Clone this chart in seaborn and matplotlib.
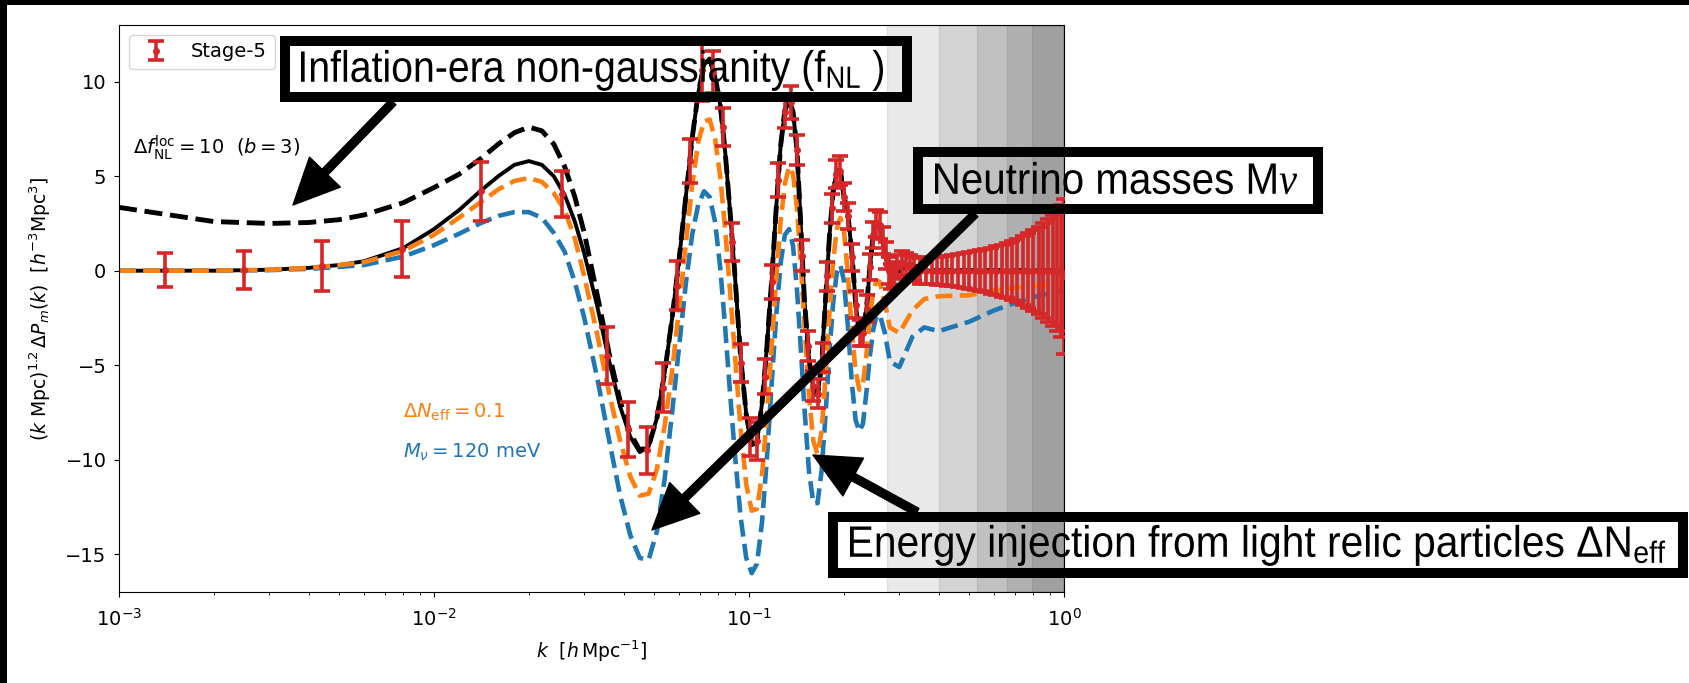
import matplotlib
matplotlib.use('Agg')
import matplotlib.pyplot as plt
from matplotlib.patches import Rectangle, PathPatch
from matplotlib.textpath import TextPath
from matplotlib.font_manager import FontProperties
from matplotlib.transforms import Affine2D, IdentityTransform
import seaborn as sns

# k grid shared by all theory curves [h/Mpc]
k = [0.001, 0.002, 0.003, 0.004, 0.005, 0.006, 0.008, 0.010, 0.012, 0.014,
     0.016, 0.018, 0.020, 0.022, 0.024, 0.026, 0.028, 0.030, 0.033, 0.036,
     0.039, 0.042, 0.045, 0.048, 0.051, 0.054, 0.057, 0.060, 0.063, 0.066,
     0.069, 0.072, 0.075, 0.078, 0.081, 0.084, 0.087, 0.090, 0.094, 0.098,
     0.102, 0.106, 0.110, 0.114, 0.118, 0.122, 0.126, 0.130, 0.134, 0.138,
     0.142, 0.146, 0.150, 0.155, 0.160, 0.165, 0.170, 0.175, 0.180, 0.185,
     0.190, 0.195, 0.200, 0.206, 0.212, 0.218, 0.224, 0.230, 0.236, 0.242,
     0.248, 0.254, 0.260, 0.27, 0.28, 0.30, 0.33, 0.36, 0.40, 0.5,
     0.6, 0.7, 0.8, 0.9, 1.0]

# black solid curve
total = [0.0, 0.0, 0.05, 0.15, 0.3, 0.5, 1.2, 2.2, 3.2, 4.2,
         5.0, 5.6, 5.8, 5.6, 5.0, 4.0, 2.6, 0.9, -1.9, -4.8,
         -7.2, -8.8, -9.6, -9.3, -7.8, -5.4, -2.5, 0.6, 3.9, 7.0,
         9.4, 10.9, 11.2, 10.3, 8.8, 6.3, 3.2, 0.0, -4.5, -7.6,
         -9.2, -9.1, -7.0, -4.0, -0.5, 3.3, 6.6, 8.5, 9.0, 8.4,
         6.4, 2.4, -1.6, -4.6, -6.3, -6.6, -5.0, -1.5, 1.8, 4.2,
         5.3, 5.3, 4.0, 3.0, 1.0, -1.7, -3.3, -3.4, -2.0, 0.2,
         1.9, 2.5, 2.4, 1.0, -0.1, 0.0, 0.3, 0.0, 0.0, 0.0,
         0.0, 0.0, 0.0, 0.0, 0.0]

# Delta N_eff = 0.1 (orange dashed)
neff = [0.0, 0.0, 0.05, 0.15, 0.3, 0.45, 1.05, 1.9, 2.8, 3.6,
        4.3, 4.75, 4.9, 4.7, 4.1, 3.2, 1.7, -0.3, -3.4, -6.5,
        -9.0, -10.9, -11.9, -11.8, -10.5, -8.2, -5.3, -2.0, 1.4, 4.5,
        6.8, 7.9, 8.0, 7.0, 5.0, 2.2, -1.0, -4.2, -8.3, -11.3,
        -12.7, -12.6, -10.8, -7.7, -4.0, -0.4, 2.6, 4.6, 5.5, 5.1,
        3.3, 0.4, -2.9, -6.6, -9.0, -9.7, -8.5, -5.6, -2.3, 0.5,
        2.2, 2.8, 2.2, -0.2, -3.2, -5.3, -6.3, -6.0, -4.4, -2.5,
        -1.1, -0.5, -0.6, -1.7, -3.0, -3.3, -2.1, -1.5, -1.35, -1.3,
        -1.05, -0.9, -0.8, -0.7, -0.6]

# M_nu = 120 meV (blue dashed)
mnu = [0.0, 0.0, 0.03, 0.1, 0.2, 0.3, 0.75, 1.35, 1.95, 2.5,
       2.9, 3.1, 3.1, 2.8, 2.0, 1.0, -0.6, -2.5, -5.7, -9.0,
       -11.9, -14.0, -15.2, -15.3, -13.8, -11.0, -7.5, -4.0, -0.7, 1.9,
       3.5, 4.2, 3.9, 2.6, 0.2, -3.0, -6.4, -9.5, -13.0, -15.2,
       -16.0, -15.5, -13.3, -9.9, -6.0, -2.4, 0.4, 1.9, 2.2, 1.3,
       -1.0, -4.1, -7.3, -10.6, -12.3, -12.3, -10.6, -7.6, -4.3, -1.7,
       -0.1, 0.3, -0.5, -2.9, -5.9, -7.9, -8.5, -8.1, -6.4, -4.5,
       -3.1, -2.4, -2.3, -3.3, -4.8, -5.1, -3.5, -3.0, -3.2, -2.7,
       -2.1, -1.7, -1.4, -1.2, -1.0]

# Delta f_NL = 10 (black dashed), low-k part; above k = 0.045 it follows the black solid curve
fnl_low = [3.35, 2.6, 2.5, 2.55, 2.7, 2.95, 3.6, 4.4, 5.1, 5.9,
           6.7, 7.3, 7.6, 7.4, 6.7, 5.5, 3.9, 2.0, -1.3, -4.4,
           -6.9, -8.6, -9.5]
fnl = fnl_low + total[len(fnl_low):]

# Stage-5 forecast points
bar_k = [0.0014, 0.0025, 0.0044, 0.0079, 0.0141, 0.0254,
         0.0355, 0.0414, 0.0473, 0.0532, 0.0591, 0.0650, 0.0709, 0.0768, 0.0827, 0.0886,
         0.0945, 0.1004, 0.1063, 0.1122, 0.1181, 0.1240, 0.1299, 0.1358, 0.1417, 0.1476,
         0.1535, 0.1594, 0.1653, 0.1712, 0.1771, 0.1830, 0.1889, 0.1948, 0.2007, 0.2066,
         0.2125, 0.2184, 0.2243, 0.2302, 0.2361, 0.2420, 0.2479, 0.2538, 0.2597, 0.2656,
         0.2715, 0.2774, 0.2833, 0.2892, 0.2951,
         0.305, 0.315, 0.325, 0.335, 0.35, 0.365, 0.38, 0.395, 0.41, 0.425,
         0.44, 0.46, 0.48, 0.50, 0.52, 0.54, 0.56, 0.585, 0.61, 0.635,
         0.66, 0.685, 0.71, 0.74, 0.77, 0.80, 0.83, 0.86, 0.89, 0.92,
         0.95, 0.98, 1.0]
bar_val = [0.05, 0.05, 0.25, 1.15, 4.2, 4.05,
           -4.5, -8.4, -9.5, -6.2, -0.8, 5.8, 10.6, 10.5, 7.6, 1.5,
           -4.9, -8.8, -9.0, -5.6, -0.6, 4.8, 8.4, 8.9, 6.4, 0.8,
           -4.0, -6.1, -6.5, -4.6, -0.3, 3.3, 5.1, 5.3, 3.9, 2.9,
           0.7, -1.8, -3.3, -3.3, -2.0, 0.2, 1.9, 2.5, 2.4, 1.6,
           0.8, 0.0, -0.3, -0.2, 0.2,
           0.4, 0.3, 0.2, 0.1, 0.0, 0.0, 0.0, 0.0, 0.0, 0.0,
           0.0, 0.0, 0.0, 0.0, 0.0, 0.0, 0.0, 0.0, 0.0, 0.0,
           0.0, 0.0, 0.0, 0.0, 0.0, 0.0, 0.0, 0.0, 0.0, 0.0,
           0.0, 0.0, -0.3]
bar_err = [0.9, 1.0, 1.3, 1.5, 1.55, 1.2,
           1.5, 1.45, 1.25, 1.3, 1.3, 1.15, 1.6, 1.1, 1.0, 1.0,
           1.0, 1.0, 1.0, 0.95, 0.9, 0.9, 0.85, 0.85, 0.8, 0.8,
           0.8, 0.8, 0.75, 0.75, 0.75, 0.75, 0.75, 0.75, 0.75, 0.7,
           0.7, 0.7, 0.7, 0.7, 0.7, 0.7, 0.7, 0.7, 0.7, 0.7,
           0.7, 0.7, 0.65, 0.65, 0.65,
           0.65, 0.65, 0.65, 0.65, 0.68, 0.7, 0.72, 0.75, 0.78, 0.8,
           0.83, 0.87, 0.92, 0.97, 1.02, 1.08, 1.15, 1.22, 1.3, 1.38,
           1.47, 1.57, 1.68, 1.82, 1.97, 2.13, 2.3, 2.5, 2.72, 2.95,
           3.2, 3.5, 4.1]

# k_max of the shaded redshift bins
band_kmin = [0.274, 0.40, 0.528, 0.66, 0.79]

W, H = 1690, 683
plt.rcParams['mathtext.rm'] = 'Liberation Sans'
plt.rcParams['mathtext.it'] = 'Liberation Serif:italic'
plt.rcParams['mathtext.bf'] = 'Liberation Sans:bold'

fig = plt.figure(figsize=(W / 100, H / 100), dpi=100)
ax = fig.add_axes([119 / W, 1 - 592 / H, 945 / W, 567 / H])

for kk in band_kmin:
    ax.axvspan(kk, 1.0, color='k', alpha=0.085, lw=1.0, zorder=0.5)

sns.lineplot(x=k, y=total, ax=ax, color='k', lw=2.8, zorder=2)
sns.lineplot(x=k, y=mnu, ax=ax, color='C0', linestyle='--', lw=3.3, zorder=2.1)
sns.lineplot(x=k, y=neff, ax=ax, color='C1', linestyle='--', lw=3.3, zorder=2.2)
sns.lineplot(x=k, y=fnl, ax=ax, color='k', linestyle='--', lw=3.5, zorder=2.3)

ax.errorbar(bar_k, bar_val, yerr=bar_err, fmt='o', color='C3', ms=4,
            elinewidth=2.6, capsize=6, capthick=2.6, label='Stage-5', zorder=3)

ax.set_xscale('log')
ax.set_xlim(1e-3, 1.0)
ax.set_ylim(-17, 13)
ax.set_yticks([-15, -10, -5, 0, 5, 10])
ax.tick_params(labelsize=14, pad=5.5)
ax.tick_params(axis='x', pad=8)
ax.set_xlabel(r'$k$  [$h\,$Mpc$^{-1}$]', fontsize=13.5, labelpad=6)
ax.set_ylabel(r'$(k\ \mathrm{Mpc})^{1.2}\,\Delta P_m(k)$  [$h^{-3}\mathrm{Mpc}^3$]',
              fontsize=13.5, labelpad=9)
ax.legend(loc='upper left', fontsize=14)

ax.text(0.00111, 6.5, r'$\Delta f_{\rm NL}^{\rm loc} = 10$  $(b = 3)$', fontsize=14, va='center')
ax.text(0.008, -7.5, r'$\Delta N_{\rm eff} = 0.1$', color='C1', fontsize=14, va='center')
ax.text(0.008, -9.6, r'$M_\nu = 120\ \mathrm{meV}$', color='C0', fontsize=14, va='center')

# black frame on the top and left edges of the picture
fig.add_artist(Rectangle((0, 1 - 5 / H), 1, 5 / H, transform=fig.transFigure,
                         color='k', lw=0, zorder=10))
fig.add_artist(Rectangle((0, 0), 7 / W, 1, transform=fig.transFigure,
                         color='k', lw=0, zorder=10))

# annotation boxes: outer edges (pixels from top-left), text left/right/baseline
boxes = [
    (280, 36, 912, 102, 301, 883, 82, r'Inflation-era non-gaussianity (f$_{\mathrm{NL}}$ )'),
    (913, 147, 1323, 214, 935, 1297, 194, r'Neutrino masses M$\nu$'),
    (828, 512, 1688, 578, 850, 1665, 557, r'Energy injection from light relic particles $\Delta$N$_{\mathrm{eff}}$'),
]
bw = 10
prop = FontProperties(family='Liberation Sans', math_fontfamily='custom')
for x0, y0, x1, y1, tl, tr_, ty, s in boxes:
    fig.add_artist(Rectangle(((x0 + bw / 2) / W, 1 - (y1 - bw / 2) / H),
                             (x1 - x0 - bw) / W, (y1 - y0 - bw) / H,
                             transform=fig.transFigure, fill=False, ec='k',
                             lw=bw * 0.72, zorder=8))
    # narrow lettering: squeeze the glyph outlines to the measured width
    tp = TextPath((0, 0), s, size=44, prop=prop)
    ext = tp.get_extents()
    sx = (tr_ - tl) / ext.width
    trf = Affine2D().translate(-ext.x0, 0).scale(sx, 1).translate(tl, H - ty)
    fig.add_artist(PathPatch(trf.transform_path(tp), transform=IdentityTransform(),
                             fc='k', lw=0, zorder=9))

arrows = [((393, 102), (293, 205)), ((975, 214), (652, 530)), ((917, 512), (813, 455))]
for (tx, ty), (hx, hy) in arrows:
    ax.annotate('', xy=(hx, H - hy), xycoords='figure pixels',
                xytext=(tx, H - ty), textcoords='figure pixels',
                arrowprops=dict(facecolor='k', edgecolor='k', width=5.8,
                                headwidth=31, headlength=33, shrink=0),
                zorder=7)

fig.savefig('out.png', dpi=100)
